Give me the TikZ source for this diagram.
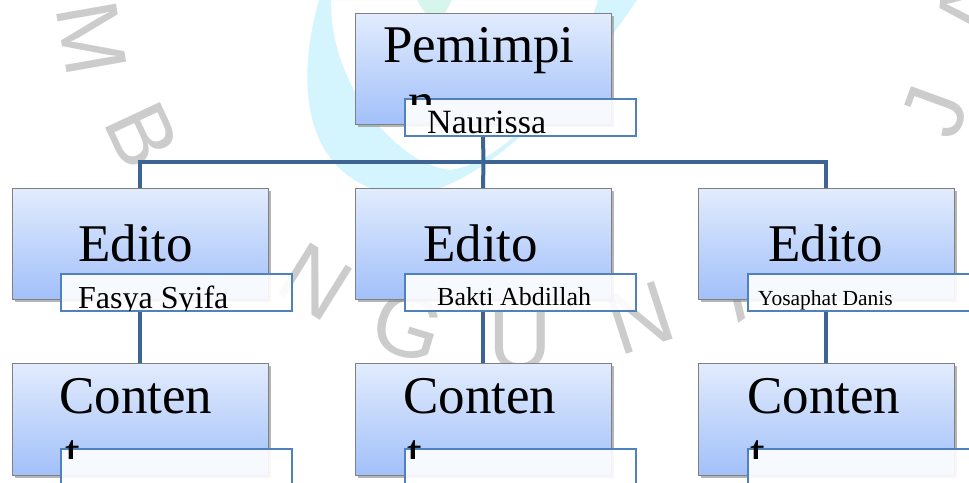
\documentclass[tikz,border=0pt]{standalone}
\usepackage{fontspec}
\setmainfont{Liberation Serif}
\newfontfamily\wmfont{Liberation Sans}
\usetikzlibrary{shadows}
\definecolor{conn}{RGB}{62,100,150}
\definecolor{boxtop}{RGB}{226,236,253}
\definecolor{boxbot}{RGB}{162,192,250}
\definecolor{lblborder}{RGB}{79,129,189}
\definecolor{wmcyan}{RGB}{212,245,253}
\definecolor{wmgreen}{RGB}{214,246,236}
\definecolor{wmgray}{RGB}{204,204,204}
\begin{document}
\begin{tikzpicture}[x=1pt,y=-1pt,
  mainbox/.style={draw=black!50, line width=0.8pt, top color=boxtop, bottom color=boxbot,
    minimum width=256pt, minimum height=111pt, inner sep=0pt, outer sep=0pt, anchor=north west,
    drop shadow={shadow xshift=2.5pt, shadow yshift=-2.5pt, opacity=0.35}},
  lblbox/.style={draw=lblborder, line width=1.8pt, fill=white, fill opacity=0.9,
    minimum width=231pt, minimum height=37pt, inner sep=0pt, outer sep=0pt, anchor=north west},
  conline/.style={draw=conn, line width=4pt},
  big/.style={font=\fontsize{53}{57}\selectfont, inner sep=0pt, anchor=base west},
  lbltext/.style={inner sep=0pt, anchor=base west},
  wm/.style={text=wmgray, font=\wmfont\fontsize{88}{88}\selectfont, inner sep=0pt}
]
\useasboundingbox (0,0) rectangle (969,482);
\clip (0,0) rectangle (969,482);
\fill[white] (0,0) rectangle (969,482);

% background watermark shapes
\fill[wmcyan, even odd rule]
  (319,0) .. controls (296,80) and (300,178) .. (395,195) .. controls (470,202) and (570,100) .. (637,0) -- cycle
  (331,0) .. controls (330,90) and (400,165) .. (450,170) .. controls (520,160) and (580,60) .. (598,0) -- cycle;
\fill[wmgreen] (417,0) -- (452,0) -- (445,13) -- (425,13) -- cycle;

\node[wm, rotate=-80] (wmM) at (92,38) {M};
\node[wm, rotate=-65] (wmB) at (142,135) {B};
\node[wm, rotate=-32] (wmN1) at (315,282) {N};
\node[wm, rotate=-17] (wmG) at (408,327) {G};
\node[wm, rotate=0] (wmU) at (520,340) {U};
\node[wm, rotate=18] (wmN2) at (640,318) {N};
\node[wm, rotate=35] (wmA1) at (745,282) {A};
\node[wm, rotate=70] (wmJ) at (935,112) {J};
\node[wm, rotate=84] (wmA2) at (970,7) {A};

% main boxes
\node[mainbox] (P) at (355,13) {};
\node[mainbox] (E1) at (12,188) {};
\node[mainbox] (E2) at (355,188) {};
\node[mainbox] (E3) at (698,188) {};
\node[mainbox, minimum height=112pt] (C1) at (12,363) {};
\node[mainbox, minimum height=112pt] (C2) at (355,363) {};
\node[mainbox, minimum height=112pt] (C3) at (698,363) {};

% connectors
\coordinate (hub) at (483.5,162);
\draw[conline] (P.south |- 0,136) -- (hub);
\draw[conline] (hub) -| (E1.north);
\draw[conline] (hub) -| (E3.north);
\draw[conline] (hub) -- (E2.north);
\draw[conline] (E1.south |- 0,311) -- (C1.north);
\draw[conline] (E2.south |- 0,311) -- (C2.north);
\draw[conline] (E3.south |- 0,311) -- (C3.north);

% redraw boxes over connectors
\node[mainbox] (P') at (355,13) {};
\node[mainbox] (E1') at (12,188) {};
\node[mainbox] (E2') at (355,188) {};
\node[mainbox] (E3') at (698,188) {};
\node[mainbox, minimum height=112pt] (C1') at (12,363) {};
\node[mainbox, minimum height=112pt] (C2') at (355,363) {};
\node[mainbox, minimum height=112pt] (C3') at (698,363) {};

% main texts
\node[big] (tP) at (383,62) {Pemimpi};
\node[big] (tE1) at (78,261) {Edito};
\node[big] (tE2) at (423,261) {Edito};
\node[big] (tE3) at (768,261) {Edito};
\node[big] (tC1) at (59,413) {Conten};
\node[big] (tC2) at (403,413) {Conten};
\node[big] (tC3) at (747,413) {Conten};

% label boxes
\node[lblbox] (LP) at (405,99) {};
\node[lblbox] (LE1) at (61,274) {};
\node[lblbox] (LE2) at (405,274) {};
\node[lblbox] (LE3) at (748,274) {};
\node[lblbox] (LC1) at (61,449) {};
\node[lblbox] (LC2) at (405,449) {};
\node[lblbox] (LC3) at (748,449) {};

% label texts
\node[lbltext, font=\fontsize{34}{36}\selectfont] (tLP) at (427,133) {Naurissa};
\begin{scope}
  \clip (0,0) rectangle (969,310);
  \node[lbltext, font=\fontsize{32}{36}\selectfont] (tLE1) at (78,308) {Fasya Syifa};
\end{scope}
\node[lbltext, font=\fontsize{26}{30}\selectfont] (tLE2) at (437,305) {Bakti Abdillah};
\node[lbltext, font=\fontsize{21.5}{24}\selectfont] (tLE3) at (758,305) {Yosaphat Danis};

% wrapped second lines, partly hidden
\begin{scope}
  \clip (0,0) rectangle (969,104);
  \node[big] (tPn) at (408,119) {n};
\end{scope}
\begin{scope}
  \clip (0,0) rectangle (969,458);
  \node[big] (tC1t) at (65,470) {t};
  \node[big] (tC2t) at (407,470) {t};
  \node[big] (tC3t) at (750,470) {t};
\end{scope}
\end{tikzpicture}
\end{document}
